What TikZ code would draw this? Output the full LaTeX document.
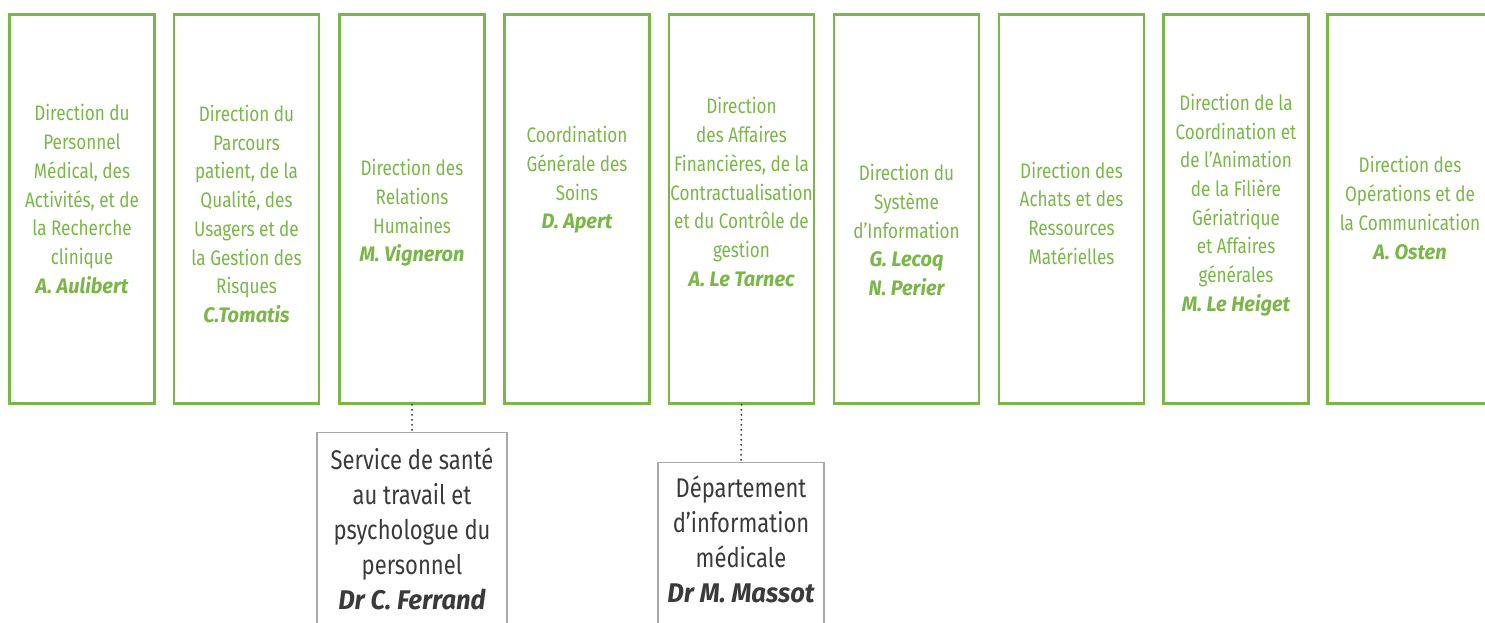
\documentclass[tikz,border=0pt]{standalone}
\usepackage{fontspec}
\setmainfont{Fira Sans}[FakeStretch=0.815]
\newfontfamily\namefont{Fira Sans}[FakeStretch=0.95]
\definecolor{grn}{HTML}{7AB648}
\definecolor{txtgrey}{HTML}{3A3A3A}
\definecolor{boxgrey}{HTML}{A8A8A8}
\newcommand{\nm}[1]{{\namefont\bfseries\itshape #1}}
\begin{document}
\begin{tikzpicture}[x=1pt,y=-1pt,
  dirbox/.style={draw=grn,line width=2.6pt,minimum width=145pt,minimum height=389pt,inner sep=0pt},
  dirtext/.style={text=grn,align=center,inner sep=0pt,font=\fontsize{21}{28.7}\selectfont},
  subbox/.style={draw=boxgrey,line width=1.2pt,inner sep=0pt,minimum height=300pt,anchor=north},
  subtext/.style={text=txtgrey,align=center,inner sep=0pt,font=\fontsize{27}{35}\selectfont},
  link/.style={draw=txtgrey,line width=2.1pt,line cap=round,dash pattern=on 0pt off 5pt}]
\useasboundingbox (0,0) rectangle (1485,623);
\clip (0,0) rectangle (1485,623);
% directorate boxes
\node[dirbox] (b1) at (82,209) {};
\node[dirbox] (b2) at (246.5,209) {};
\node[dirbox] (b3) at (412,209) {};
\node[dirbox] (b4) at (577,209) {};
\node[dirbox] (b5) at (741.5,209) {};
\node[dirbox] (b6) at (906.5,209) {};
\node[dirbox] (b7) at (1071.5,209) {};
\node[dirbox] (b8) at (1236,209) {};
\node[dirbox,minimum width=165pt] (b9) at (1410,209) {};
% texts
\node[dirtext] (t1) at (82,199) {Direction du\\Personnel\\Médical, des\\Activités, et de\\la Recherche\\clinique\\\nm{A. Aulibert}};
\node[dirtext] (t2) at (246.5,214) {Direction du\\Parcours\\patient, de la\\Qualité, des\\Usagers et de\\la Gestion des\\Risques\\\nm{C.Tomatis}};
\node[dirtext] (t3) at (412,213) {Direction des\\Relations\\Humaines\\\nm{M. Vigneron}};
\node[dirtext] (t4) at (577,180) {Coordination\\Générale des\\Soins\\\nm{D. Apert}};
\node[dirtext] (t5) at (741.5,192) {Direction\\des Affaires\\Financières, de la\\Contractualisation\\et du Contrôle de\\gestion\\\nm{A. Le Tarnec}};
\node[dirtext] (t6) at (906.5,230) {Direction du\\Système\\d’Information\\\nm{G. Lecoq}\\\nm{N. Perier}};
\node[dirtext] (t7) at (1071.5,213) {Direction des\\Achats et des\\Ressources\\Matérielles};
\node[dirtext] (t8) at (1236,205) {Direction de la\\Coordination et\\de l’Animation\\de la Filière\\Gériatrique\\et Affaires\\générales\\\nm{M. Le Heiget}};
\node[dirtext] (t9) at (1410,208) {Direction des\\Opérations et de\\la Communication\\\nm{A. Osten}};
% sub boxes
\node[subbox,minimum width=190pt] (s1) at (412,432) {};
\node[subbox,minimum width=166pt] (s2) at (741,462) {};
\node[subtext] (u1) at (412,529) {Service de santé\\au travail et\\psychologue du\\personnel\\\nm{Dr C. Ferrand}};
\node[subtext] (u2) at (741,539.5) {Département\\d’information\\médicale\\\nm{Dr M. Massot}};
% links
\draw[link] (b3.south) -- (s1.north);
\draw[link] (b5.south) -- (s2.north);
\end{tikzpicture}
\end{document}
